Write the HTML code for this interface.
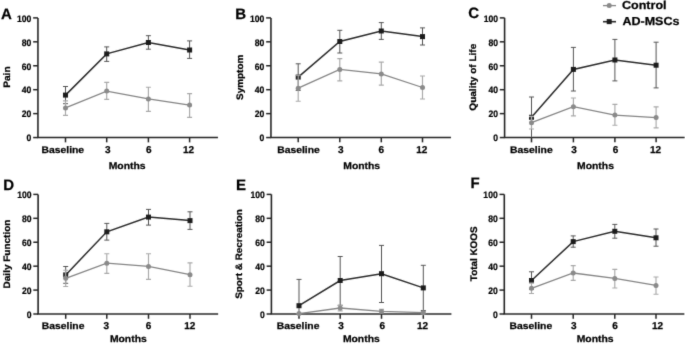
<!DOCTYPE html>
<html><head><meta charset="utf-8"><title>KOOS outcomes</title>
<style>
html,body{margin:0;padding:0;background:#fff;}
body{width:685px;height:344px;overflow:hidden;}
svg{display:block;font-family:"Liberation Sans", sans-serif;font-weight:bold;text-rendering:geometricPrecision;}
text{fill:#000;stroke:#000;stroke-width:0.25px;}
text.yt{stroke-width:0.2px;fill:#000;stroke:#000;}
</style></head><body>
<svg width="685" height="344" viewBox="0 0 685 344">
<defs><filter id="bl" x="0" y="0" width="685" height="344" filterUnits="userSpaceOnUse"><feConvolveMatrix order="3" kernelMatrix="0.01134 0.08382 0.01134 0.08382 0.61935 0.08382 0.01134 0.08382 0.01134" divisor="1" edgeMode="duplicate" preserveAlpha="false"/></filter></defs>
<rect width="685" height="344" fill="#fff"/>
<g filter="url(#bl)">
<g>
<text x="1" y="18.6" font-size="15.0">A</text>
<path d="M37.95 17.9V137.55" stroke="#262626" stroke-width="1.6" fill="none"/>
<path d="M37.2 137.55H217.95" stroke="#262626" stroke-width="1.5" fill="none"/>
<path d="M33.15 17.9H37.95" stroke="#262626" stroke-width="1.5"/>
<text class="yt" transform="translate(31.35 21.66) scale(1 1.1)" font-size="8.6" text-anchor="end">100</text>
<path d="M33.15 41.83H37.95" stroke="#262626" stroke-width="1.5"/>
<text class="yt" transform="translate(31.35 45.59) scale(1 1.1)" font-size="8.6" text-anchor="end">80</text>
<path d="M33.15 65.76H37.95" stroke="#262626" stroke-width="1.5"/>
<text class="yt" transform="translate(31.35 69.52) scale(1 1.1)" font-size="8.6" text-anchor="end">60</text>
<path d="M33.15 89.69H37.95" stroke="#262626" stroke-width="1.5"/>
<text class="yt" transform="translate(31.35 93.45) scale(1 1.1)" font-size="8.6" text-anchor="end">40</text>
<path d="M33.15 113.62H37.95" stroke="#262626" stroke-width="1.5"/>
<text class="yt" transform="translate(31.35 117.38) scale(1 1.1)" font-size="8.6" text-anchor="end">20</text>
<path d="M33.15 137.55H37.95" stroke="#262626" stroke-width="1.5"/>
<text class="yt" transform="translate(31.35 141.31) scale(1 1.1)" font-size="8.6" text-anchor="end">0</text>
<path d="M65.5 137.55V142.35" stroke="#262626" stroke-width="1.5"/>
<text transform="translate(62.8 153) scale(1.09 1)" font-size="9.5" text-anchor="middle">Baseline</text>
<path d="M106.7 137.55V142.35" stroke="#262626" stroke-width="1.5"/>
<text transform="translate(107.8 153) scale(1 1)" font-size="10.0" text-anchor="middle">3</text>
<path d="M148.4 137.55V142.35" stroke="#262626" stroke-width="1.5"/>
<text transform="translate(148.9 153) scale(1 1)" font-size="10.0" text-anchor="middle">6</text>
<path d="M189.6 137.55V142.35" stroke="#262626" stroke-width="1.5"/>
<text transform="translate(188.5 153) scale(1 1)" font-size="10.0" text-anchor="middle">12</text>
<text transform="translate(127.1 169.1) scale(1.07 1)" font-size="9.7" text-anchor="middle">Months</text>
<text transform="translate(9.7 77.1) rotate(-90) scale(1.08 1)" font-size="9.4" text-anchor="middle">Pain</text>
<path d="M65.5 86.5V103.7M63 86.5H68M63 103.7H68" stroke="#555555" stroke-width="1.0" fill="none"/>
<path d="M106.7 46.9V61.4M104.2 46.9H109.2M104.2 61.4H109.2" stroke="#555555" stroke-width="1.0" fill="none"/>
<path d="M148.4 35.7V49.2M145.9 35.7H150.9M145.9 49.2H150.9" stroke="#555555" stroke-width="1.0" fill="none"/>
<path d="M189.6 40.9V58.4M187.1 40.9H192.1M187.1 58.4H192.1" stroke="#555555" stroke-width="1.0" fill="none"/>
<polyline points="65.5,95.1 106.7,53.9 148.4,42.5 189.6,50" stroke="#2b2b2b" stroke-width="1.5" fill="none"/>
<rect x="63" y="92.6" width="5" height="5" fill="#1c1c1c"/>
<rect x="104.2" y="51.4" width="5" height="5" fill="#1c1c1c"/>
<rect x="145.9" y="40" width="5" height="5" fill="#1c1c1c"/>
<rect x="187.1" y="47.5" width="5" height="5" fill="#1c1c1c"/>
<path d="M65.5 100.8V115.3M63 100.8H68M63 115.3H68" stroke="#a9a9a9" stroke-width="1.15" fill="none"/>
<path d="M106.7 82.4V99.3M104.2 82.4H109.2M104.2 99.3H109.2" stroke="#a9a9a9" stroke-width="1.15" fill="none"/>
<path d="M148.4 87.2V111.3M145.9 87.2H150.9M145.9 111.3H150.9" stroke="#a9a9a9" stroke-width="1.15" fill="none"/>
<path d="M189.6 93.6V117.3M187.1 93.6H192.1M187.1 117.3H192.1" stroke="#a9a9a9" stroke-width="1.15" fill="none"/>
<polyline points="65.5,107.9 106.7,91.1 148.4,98.9 189.6,105.1" stroke="#858585" stroke-width="1.3" fill="none"/>
<circle cx="65.5" cy="107.9" r="2.5" fill="#8a8a8a"/>
<circle cx="106.7" cy="91.1" r="2.5" fill="#8a8a8a"/>
<circle cx="148.4" cy="98.9" r="2.5" fill="#8a8a8a"/>
<circle cx="189.6" cy="105.1" r="2.5" fill="#8a8a8a"/>
</g>
<g>
<text x="235.2" y="19.4" font-size="15.0">B</text>
<path d="M270.95 17.9V137.55" stroke="#262626" stroke-width="1.6" fill="none"/>
<path d="M270.2 137.55H450.95" stroke="#262626" stroke-width="1.5" fill="none"/>
<path d="M266.15 17.9H270.95" stroke="#262626" stroke-width="1.5"/>
<text class="yt" transform="translate(264.35 21.66) scale(1 1.1)" font-size="8.6" text-anchor="end">100</text>
<path d="M266.15 41.83H270.95" stroke="#262626" stroke-width="1.5"/>
<text class="yt" transform="translate(264.35 45.59) scale(1 1.1)" font-size="8.6" text-anchor="end">80</text>
<path d="M266.15 65.76H270.95" stroke="#262626" stroke-width="1.5"/>
<text class="yt" transform="translate(264.35 69.52) scale(1 1.1)" font-size="8.6" text-anchor="end">60</text>
<path d="M266.15 89.69H270.95" stroke="#262626" stroke-width="1.5"/>
<text class="yt" transform="translate(264.35 93.45) scale(1 1.1)" font-size="8.6" text-anchor="end">40</text>
<path d="M266.15 113.62H270.95" stroke="#262626" stroke-width="1.5"/>
<text class="yt" transform="translate(264.35 117.38) scale(1 1.1)" font-size="8.6" text-anchor="end">20</text>
<path d="M266.15 137.55H270.95" stroke="#262626" stroke-width="1.5"/>
<text class="yt" transform="translate(264.35 141.31) scale(1 1.1)" font-size="8.6" text-anchor="end">0</text>
<path d="M298.2 137.55V142.35" stroke="#262626" stroke-width="1.5"/>
<text transform="translate(298.5 153) scale(1.09 1)" font-size="9.5" text-anchor="middle">Baseline</text>
<path d="M339.8 137.55V142.35" stroke="#262626" stroke-width="1.5"/>
<text transform="translate(340.7 153) scale(1 1)" font-size="10.0" text-anchor="middle">3</text>
<path d="M381.3 137.55V142.35" stroke="#262626" stroke-width="1.5"/>
<text transform="translate(381.4 153) scale(1 1)" font-size="10.0" text-anchor="middle">6</text>
<path d="M422.5 137.55V142.35" stroke="#262626" stroke-width="1.5"/>
<text transform="translate(421.8 153) scale(1 1)" font-size="10.0" text-anchor="middle">12</text>
<text transform="translate(361.7 169.1) scale(1.07 1)" font-size="9.7" text-anchor="middle">Months</text>
<text transform="translate(242.6 77.3) rotate(-90) scale(1.06 1)" font-size="9.4" text-anchor="middle">Symptom</text>
<path d="M298.2 63.8V90.4M295.7 63.8H300.7M295.7 90.4H300.7" stroke="#555555" stroke-width="1.0" fill="none"/>
<path d="M339.8 30.3V53M337.3 30.3H342.3M337.3 53H342.3" stroke="#555555" stroke-width="1.0" fill="none"/>
<path d="M381.3 22.6V39.4M378.8 22.6H383.8M378.8 39.4H383.8" stroke="#555555" stroke-width="1.0" fill="none"/>
<path d="M422.5 27.9V45M420 27.9H425M420 45H425" stroke="#555555" stroke-width="1.0" fill="none"/>
<polyline points="298.2,77.1 339.8,41.5 381.3,31 422.5,36.6" stroke="#2b2b2b" stroke-width="1.5" fill="none"/>
<rect x="295.7" y="74.6" width="5" height="5" fill="#1c1c1c"/>
<rect x="337.3" y="39" width="5" height="5" fill="#1c1c1c"/>
<rect x="378.8" y="28.5" width="5" height="5" fill="#1c1c1c"/>
<rect x="420" y="34.1" width="5" height="5" fill="#1c1c1c"/>
<path d="M298.2 75.2V101.2M295.7 75.2H300.7M295.7 101.2H300.7" stroke="#a9a9a9" stroke-width="1.15" fill="none"/>
<path d="M339.8 58.6V80.9M337.3 58.6H342.3M337.3 80.9H342.3" stroke="#a9a9a9" stroke-width="1.15" fill="none"/>
<path d="M381.3 62.1V85.1M378.8 62.1H383.8M378.8 85.1H383.8" stroke="#a9a9a9" stroke-width="1.15" fill="none"/>
<path d="M422.5 76V99M420 76H425M420 99H425" stroke="#a9a9a9" stroke-width="1.15" fill="none"/>
<polyline points="298.2,88.2 339.8,69.4 381.3,73.9 422.5,87.5" stroke="#858585" stroke-width="1.3" fill="none"/>
<circle cx="298.2" cy="88.2" r="2.5" fill="#8a8a8a"/>
<circle cx="339.8" cy="69.4" r="2.5" fill="#8a8a8a"/>
<circle cx="381.3" cy="73.9" r="2.5" fill="#8a8a8a"/>
<circle cx="422.5" cy="87.5" r="2.5" fill="#8a8a8a"/>
</g>
<g>
<text x="468.2" y="17.9" font-size="15.0">C</text>
<path d="M504.6 17.9V137.55" stroke="#262626" stroke-width="1.6" fill="none"/>
<path d="M503.85 137.55H684.6" stroke="#262626" stroke-width="1.5" fill="none"/>
<path d="M499.8 17.9H504.6" stroke="#262626" stroke-width="1.5"/>
<text class="yt" transform="translate(498 21.66) scale(1 1.1)" font-size="8.6" text-anchor="end">100</text>
<path d="M499.8 41.83H504.6" stroke="#262626" stroke-width="1.5"/>
<text class="yt" transform="translate(498 45.59) scale(1 1.1)" font-size="8.6" text-anchor="end">80</text>
<path d="M499.8 65.76H504.6" stroke="#262626" stroke-width="1.5"/>
<text class="yt" transform="translate(498 69.52) scale(1 1.1)" font-size="8.6" text-anchor="end">60</text>
<path d="M499.8 89.69H504.6" stroke="#262626" stroke-width="1.5"/>
<text class="yt" transform="translate(498 93.45) scale(1 1.1)" font-size="8.6" text-anchor="end">40</text>
<path d="M499.8 113.62H504.6" stroke="#262626" stroke-width="1.5"/>
<text class="yt" transform="translate(498 117.38) scale(1 1.1)" font-size="8.6" text-anchor="end">20</text>
<path d="M499.8 137.55H504.6" stroke="#262626" stroke-width="1.5"/>
<text class="yt" transform="translate(498 141.31) scale(1 1.1)" font-size="8.6" text-anchor="end">0</text>
<path d="M531.5 137.55V142.35" stroke="#262626" stroke-width="1.5"/>
<text transform="translate(531.4 153) scale(1.09 1)" font-size="9.5" text-anchor="middle">Baseline</text>
<path d="M573.4 137.55V142.35" stroke="#262626" stroke-width="1.5"/>
<text transform="translate(574.1 153) scale(1 1)" font-size="10.0" text-anchor="middle">3</text>
<path d="M614.9 137.55V142.35" stroke="#262626" stroke-width="1.5"/>
<text transform="translate(615.5 153) scale(1 1)" font-size="10.0" text-anchor="middle">6</text>
<path d="M656.1 137.55V142.35" stroke="#262626" stroke-width="1.5"/>
<text transform="translate(655.6 153) scale(1 1)" font-size="10.0" text-anchor="middle">12</text>
<text transform="translate(595.5 169.1) scale(1.07 1)" font-size="9.7" text-anchor="middle">Months</text>
<text transform="translate(476.3 77.2) rotate(-90) scale(1.07 1)" font-size="9.4" text-anchor="middle">Quality of Life</text>
<path d="M531.5 97V137.55M529 97H534" stroke="#555555" stroke-width="1.0" fill="none"/>
<path d="M573.4 47.4V91M570.9 47.4H575.9M570.9 91H575.9" stroke="#555555" stroke-width="1.0" fill="none"/>
<path d="M614.9 39.4V80.9M612.4 39.4H617.4M612.4 80.9H617.4" stroke="#555555" stroke-width="1.0" fill="none"/>
<path d="M656.1 42.2V87.9M653.6 42.2H658.6M653.6 87.9H658.6" stroke="#555555" stroke-width="1.0" fill="none"/>
<polyline points="531.5,117.3 573.4,69.4 614.9,60 656.1,65.2" stroke="#2b2b2b" stroke-width="1.5" fill="none"/>
<rect x="529" y="114.8" width="5" height="5" fill="#1c1c1c"/>
<rect x="570.9" y="66.9" width="5" height="5" fill="#1c1c1c"/>
<rect x="612.4" y="57.5" width="5" height="5" fill="#1c1c1c"/>
<rect x="653.6" y="62.7" width="5" height="5" fill="#1c1c1c"/>
<path d="M531.5 116.4V129M529 116.4H534M529 129H534" stroke="#a9a9a9" stroke-width="1.15" fill="none"/>
<path d="M573.4 98V115.8M570.9 98H575.9M570.9 115.8H575.9" stroke="#a9a9a9" stroke-width="1.15" fill="none"/>
<path d="M614.9 104.3V125.2M612.4 104.3H617.4M612.4 125.2H617.4" stroke="#a9a9a9" stroke-width="1.15" fill="none"/>
<path d="M656.1 106.9V127.8M653.6 106.9H658.6M653.6 127.8H658.6" stroke="#a9a9a9" stroke-width="1.15" fill="none"/>
<polyline points="531.5,122.7 573.4,106.7 614.9,115.1 656.1,117.6" stroke="#858585" stroke-width="1.3" fill="none"/>
<circle cx="531.5" cy="122.7" r="2.5" fill="#8a8a8a"/>
<circle cx="573.4" cy="106.7" r="2.5" fill="#8a8a8a"/>
<circle cx="614.9" cy="115.1" r="2.5" fill="#8a8a8a"/>
<circle cx="656.1" cy="117.6" r="2.5" fill="#8a8a8a"/>
</g>
<g>
<text x="3.2" y="189.7" font-size="15.0">D</text>
<path d="M38.1 194.4V314" stroke="#262626" stroke-width="1.6" fill="none"/>
<path d="M37.35 314H218.1" stroke="#262626" stroke-width="1.5" fill="none"/>
<path d="M33.3 194.4H38.1" stroke="#262626" stroke-width="1.5"/>
<text class="yt" transform="translate(31.5 198.16) scale(1 1.1)" font-size="8.6" text-anchor="end">100</text>
<path d="M33.3 218.32H38.1" stroke="#262626" stroke-width="1.5"/>
<text class="yt" transform="translate(31.5 222.08) scale(1 1.1)" font-size="8.6" text-anchor="end">80</text>
<path d="M33.3 242.24H38.1" stroke="#262626" stroke-width="1.5"/>
<text class="yt" transform="translate(31.5 246) scale(1 1.1)" font-size="8.6" text-anchor="end">60</text>
<path d="M33.3 266.16H38.1" stroke="#262626" stroke-width="1.5"/>
<text class="yt" transform="translate(31.5 269.92) scale(1 1.1)" font-size="8.6" text-anchor="end">40</text>
<path d="M33.3 290.08H38.1" stroke="#262626" stroke-width="1.5"/>
<text class="yt" transform="translate(31.5 293.84) scale(1 1.1)" font-size="8.6" text-anchor="end">20</text>
<path d="M33.3 314H38.1" stroke="#262626" stroke-width="1.5"/>
<text class="yt" transform="translate(31.5 317.76) scale(1 1.1)" font-size="8.6" text-anchor="end">0</text>
<path d="M65.7 314V318.8" stroke="#262626" stroke-width="1.5"/>
<text transform="translate(63.1 328.5) scale(1.09 1)" font-size="9.5" text-anchor="middle">Baseline</text>
<path d="M106.8 314V318.8" stroke="#262626" stroke-width="1.5"/>
<text transform="translate(106.4 328.5) scale(1 1)" font-size="10.0" text-anchor="middle">3</text>
<path d="M148.5 314V318.8" stroke="#262626" stroke-width="1.5"/>
<text transform="translate(148.5 328.5) scale(1 1)" font-size="10.0" text-anchor="middle">6</text>
<path d="M190 314V318.8" stroke="#262626" stroke-width="1.5"/>
<text transform="translate(189.7 328.5) scale(1 1)" font-size="10.0" text-anchor="middle">12</text>
<text transform="translate(128.3 342.4) scale(1.07 1)" font-size="9.7" text-anchor="middle">Months</text>
<text transform="translate(9.8 254) rotate(-90) scale(1.065 1)" font-size="9.4" text-anchor="middle">Daily Function</text>
<path d="M65.7 266.5V283.3M63.2 266.5H68.2M63.2 283.3H68.2" stroke="#555555" stroke-width="1.0" fill="none"/>
<path d="M106.8 223.4V240.1M104.3 223.4H109.3M104.3 240.1H109.3" stroke="#555555" stroke-width="1.0" fill="none"/>
<path d="M148.5 209.4V225.1M146 209.4H151M146 225.1H151" stroke="#555555" stroke-width="1.0" fill="none"/>
<path d="M190 211.8V229.4M187.5 211.8H192.5M187.5 229.4H192.5" stroke="#555555" stroke-width="1.0" fill="none"/>
<polyline points="65.7,274.9 106.8,231.8 148.5,217.1 190,220.6" stroke="#2b2b2b" stroke-width="1.5" fill="none"/>
<rect x="63.2" y="272.4" width="5" height="5" fill="#1c1c1c"/>
<rect x="104.3" y="229.3" width="5" height="5" fill="#1c1c1c"/>
<rect x="146" y="214.6" width="5" height="5" fill="#1c1c1c"/>
<rect x="187.5" y="218.1" width="5" height="5" fill="#1c1c1c"/>
<path d="M65.7 270.2V286.5M63.2 270.2H68.2M63.2 286.5H68.2" stroke="#a9a9a9" stroke-width="1.15" fill="none"/>
<path d="M106.8 253.7V273.3M104.3 253.7H109.3M104.3 273.3H109.3" stroke="#a9a9a9" stroke-width="1.15" fill="none"/>
<path d="M148.5 253.7V279.4M146 253.7H151M146 279.4H151" stroke="#a9a9a9" stroke-width="1.15" fill="none"/>
<path d="M190 262.8V286.2M187.5 262.8H192.5M187.5 286.2H192.5" stroke="#a9a9a9" stroke-width="1.15" fill="none"/>
<polyline points="65.7,278.3 106.8,263.2 148.5,266.4 190,274.7" stroke="#858585" stroke-width="1.3" fill="none"/>
<circle cx="65.7" cy="278.3" r="2.5" fill="#8a8a8a"/>
<circle cx="106.8" cy="263.2" r="2.5" fill="#8a8a8a"/>
<circle cx="148.5" cy="266.4" r="2.5" fill="#8a8a8a"/>
<circle cx="190" cy="274.7" r="2.5" fill="#8a8a8a"/>
</g>
<g>
<text x="236" y="190" font-size="15.0">E</text>
<path d="M271.4 194.4V314" stroke="#262626" stroke-width="1.6" fill="none"/>
<path d="M270.65 314H451.4" stroke="#262626" stroke-width="1.5" fill="none"/>
<path d="M266.6 194.4H271.4" stroke="#262626" stroke-width="1.5"/>
<text class="yt" transform="translate(264.8 198.16) scale(1 1.1)" font-size="8.6" text-anchor="end">100</text>
<path d="M266.6 218.32H271.4" stroke="#262626" stroke-width="1.5"/>
<text class="yt" transform="translate(264.8 222.08) scale(1 1.1)" font-size="8.6" text-anchor="end">80</text>
<path d="M266.6 242.24H271.4" stroke="#262626" stroke-width="1.5"/>
<text class="yt" transform="translate(264.8 246) scale(1 1.1)" font-size="8.6" text-anchor="end">60</text>
<path d="M266.6 266.16H271.4" stroke="#262626" stroke-width="1.5"/>
<text class="yt" transform="translate(264.8 269.92) scale(1 1.1)" font-size="8.6" text-anchor="end">40</text>
<path d="M266.6 290.08H271.4" stroke="#262626" stroke-width="1.5"/>
<text class="yt" transform="translate(264.8 293.84) scale(1 1.1)" font-size="8.6" text-anchor="end">20</text>
<path d="M266.6 314H271.4" stroke="#262626" stroke-width="1.5"/>
<text class="yt" transform="translate(264.8 317.76) scale(1 1.1)" font-size="8.6" text-anchor="end">0</text>
<path d="M299 314V318.8" stroke="#262626" stroke-width="1.5"/>
<text transform="translate(298.1 328.5) scale(1.09 1)" font-size="9.5" text-anchor="middle">Baseline</text>
<path d="M340.2 314V318.8" stroke="#262626" stroke-width="1.5"/>
<text transform="translate(341.1 328.5) scale(1 1)" font-size="10.0" text-anchor="middle">3</text>
<path d="M381.5 314V318.8" stroke="#262626" stroke-width="1.5"/>
<text transform="translate(382.3 328.5) scale(1 1)" font-size="10.0" text-anchor="middle">6</text>
<path d="M423.3 314V318.8" stroke="#262626" stroke-width="1.5"/>
<text transform="translate(422.5 328.5) scale(1 1)" font-size="10.0" text-anchor="middle">12</text>
<text transform="translate(361.3 342.4) scale(1.07 1)" font-size="9.7" text-anchor="middle">Months</text>
<text transform="translate(242.3 254) rotate(-90) scale(1.065 1)" font-size="9.3" text-anchor="middle">Sport &amp; Recreation</text>
<path d="M299 279.4V314M296.5 279.4H301.5" stroke="#555555" stroke-width="1.0" fill="none"/>
<path d="M340.2 256.5V305.3M337.7 256.5H342.7M337.7 305.3H342.7" stroke="#555555" stroke-width="1.0" fill="none"/>
<path d="M381.5 245.4V302.5M379 245.4H384M379 302.5H384" stroke="#555555" stroke-width="1.0" fill="none"/>
<path d="M423.3 265.3V310.5M420.8 265.3H425.8M420.8 310.5H425.8" stroke="#555555" stroke-width="1.0" fill="none"/>
<polyline points="299,305.7 340.2,280.5 381.5,273.7 423.3,287.9" stroke="#2b2b2b" stroke-width="1.5" fill="none"/>
<rect x="296.5" y="303.2" width="5" height="5" fill="#1c1c1c"/>
<rect x="337.7" y="278" width="5" height="5" fill="#1c1c1c"/>
<rect x="379" y="271.2" width="5" height="5" fill="#1c1c1c"/>
<rect x="420.8" y="285.4" width="5" height="5" fill="#1c1c1c"/>
<path d="M299 313.6V313.6M296.5 313.6H301.5" stroke="#a9a9a9" stroke-width="1.15" fill="none"/>
<path d="M340.2 305.3V310.8M337.7 305.3H342.7M337.7 310.8H342.7" stroke="#a9a9a9" stroke-width="1.15" fill="none"/>
<path d="M381.5 309.3V313.5M379 309.3H384" stroke="#a9a9a9" stroke-width="1.15" fill="none"/>
<path d="M423.3 311.5V314M420.8 311.5H425.8" stroke="#a9a9a9" stroke-width="1.15" fill="none"/>
<polyline points="299,313.6 340.2,308 381.5,311.4 423.3,312.7" stroke="#858585" stroke-width="1.3" fill="none"/>
<circle cx="299" cy="313.6" r="2.5" fill="#8a8a8a"/>
<circle cx="340.2" cy="308" r="2.5" fill="#8a8a8a"/>
<circle cx="381.5" cy="311.4" r="2.5" fill="#8a8a8a"/>
<circle cx="423.3" cy="312.7" r="2.5" fill="#8a8a8a"/>
</g>
<g>
<text x="470.6" y="187.6" font-size="15.0">F</text>
<path d="M504.3 194.4V314" stroke="#262626" stroke-width="1.6" fill="none"/>
<path d="M503.55 314H684.3" stroke="#262626" stroke-width="1.5" fill="none"/>
<path d="M499.5 194.4H504.3" stroke="#262626" stroke-width="1.5"/>
<text class="yt" transform="translate(497.7 198.16) scale(1 1.1)" font-size="8.6" text-anchor="end">100</text>
<path d="M499.5 218.32H504.3" stroke="#262626" stroke-width="1.5"/>
<text class="yt" transform="translate(497.7 222.08) scale(1 1.1)" font-size="8.6" text-anchor="end">80</text>
<path d="M499.5 242.24H504.3" stroke="#262626" stroke-width="1.5"/>
<text class="yt" transform="translate(497.7 246) scale(1 1.1)" font-size="8.6" text-anchor="end">60</text>
<path d="M499.5 266.16H504.3" stroke="#262626" stroke-width="1.5"/>
<text class="yt" transform="translate(497.7 269.92) scale(1 1.1)" font-size="8.6" text-anchor="end">40</text>
<path d="M499.5 290.08H504.3" stroke="#262626" stroke-width="1.5"/>
<text class="yt" transform="translate(497.7 293.84) scale(1 1.1)" font-size="8.6" text-anchor="end">20</text>
<path d="M499.5 314H504.3" stroke="#262626" stroke-width="1.5"/>
<text class="yt" transform="translate(497.7 317.76) scale(1 1.1)" font-size="8.6" text-anchor="end">0</text>
<path d="M531.5 314V318.8" stroke="#262626" stroke-width="1.5"/>
<text transform="translate(530.9 328.5) scale(1.09 1)" font-size="9.5" text-anchor="middle">Baseline</text>
<path d="M573.2 314V318.8" stroke="#262626" stroke-width="1.5"/>
<text transform="translate(573.8 328.5) scale(1 1)" font-size="10.0" text-anchor="middle">3</text>
<path d="M614.8 314V318.8" stroke="#262626" stroke-width="1.5"/>
<text transform="translate(615 328.5) scale(1 1)" font-size="10.0" text-anchor="middle">6</text>
<path d="M656 314V318.8" stroke="#262626" stroke-width="1.5"/>
<text transform="translate(657.5 328.5) scale(1 1)" font-size="10.0" text-anchor="middle">12</text>
<text transform="translate(595.1 342.4) scale(1.07 1)" font-size="9.7" text-anchor="middle">Months</text>
<text transform="translate(477 253.8) rotate(-90) scale(1.03 1)" font-size="9.6" text-anchor="middle">Total KOOS</text>
<path d="M531.5 271.8V289.2M529 271.8H534M529 289.2H534" stroke="#555555" stroke-width="1.0" fill="none"/>
<path d="M573.2 235.9V247.2M570.7 235.9H575.7M570.7 247.2H575.7" stroke="#555555" stroke-width="1.0" fill="none"/>
<path d="M614.8 224.4V238.2M612.3 224.4H617.3M612.3 238.2H617.3" stroke="#555555" stroke-width="1.0" fill="none"/>
<path d="M656 229V246.2M653.5 229H658.5M653.5 246.2H658.5" stroke="#555555" stroke-width="1.0" fill="none"/>
<polyline points="531.5,280.5 573.2,241.6 614.8,231.3 656,237.8" stroke="#2b2b2b" stroke-width="1.5" fill="none"/>
<rect x="529" y="278" width="5" height="5" fill="#1c1c1c"/>
<rect x="570.7" y="239.1" width="5" height="5" fill="#1c1c1c"/>
<rect x="612.3" y="228.8" width="5" height="5" fill="#1c1c1c"/>
<rect x="653.5" y="235.3" width="5" height="5" fill="#1c1c1c"/>
<path d="M531.5 283.1V293.5M529 283.1H534M529 293.5H534" stroke="#a9a9a9" stroke-width="1.15" fill="none"/>
<path d="M573.2 265.6V280.3M570.7 265.6H575.7M570.7 280.3H575.7" stroke="#a9a9a9" stroke-width="1.15" fill="none"/>
<path d="M614.8 269.3V288M612.3 269.3H617.3M612.3 288H617.3" stroke="#a9a9a9" stroke-width="1.15" fill="none"/>
<path d="M656 277V294.2M653.5 277H658.5M653.5 294.2H658.5" stroke="#a9a9a9" stroke-width="1.15" fill="none"/>
<polyline points="531.5,288.3 573.2,273 614.8,278.4 656,285.4" stroke="#858585" stroke-width="1.3" fill="none"/>
<circle cx="531.5" cy="288.3" r="2.5" fill="#8a8a8a"/>
<circle cx="573.2" cy="273" r="2.5" fill="#8a8a8a"/>
<circle cx="614.8" cy="278.4" r="2.5" fill="#8a8a8a"/>
<circle cx="656" cy="285.4" r="2.5" fill="#8a8a8a"/>
</g>
<g>
<path d="M603 5.6H616" stroke="#858585" stroke-width="1.3"/>
<circle cx="609.2" cy="5.6" r="2.5" fill="#8a8a8a"/>
<text transform="translate(622 9) scale(1.08 1)" font-size="11.6">Control</text>
<path d="M603 21.7H616" stroke="#2b2b2b" stroke-width="1.6"/>
<rect x="606.7" y="19.1" width="5" height="5" fill="#1c1c1c"/>
<text transform="translate(622.4 24.8) scale(1.08 1)" font-size="11.6">AD-MSCs</text>
</g>
</g>
</svg>
</body></html>
